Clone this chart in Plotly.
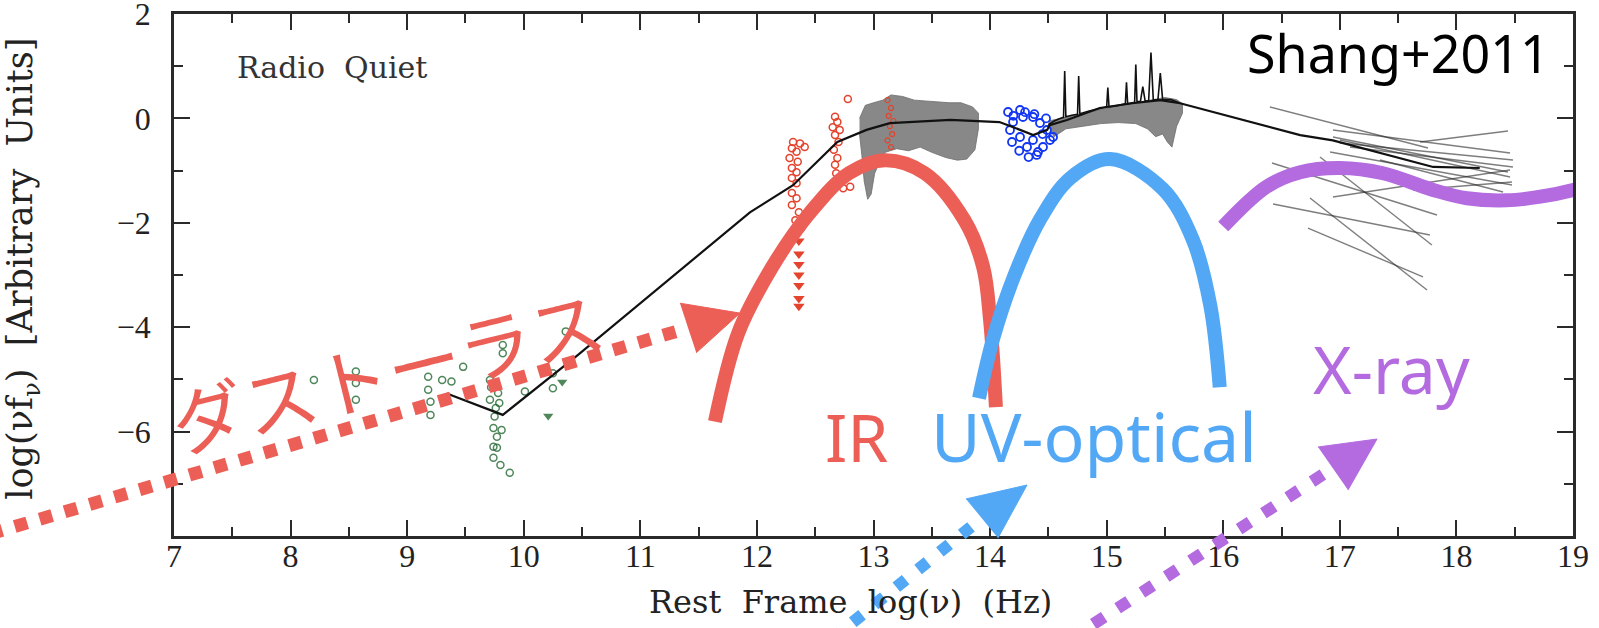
import plotly.graph_objects as go

# ---------------- frame geometry (pixels of the 1599x628 picture) ----------------
FIG_W, FIG_H = 1599, 628
PX_L, PX_R, PX_T, PX_B = 174, 1573, 14, 536
X_MIN, X_MAX = 7, 19
Y_MIN, Y_MAX = -8, 2
UX = (PX_R - PX_L) / (X_MAX - X_MIN)
UY = (PX_B - PX_T) / (Y_MAX - Y_MIN)
EXT_X = [X_MIN - PX_L / UX, X_MAX + (FIG_W - PX_R) / UX]
EXT_Y = [Y_MIN - (FIG_H - PX_B) / UY, Y_MAX + PX_T / UY]

# ---------------- data ----------------
x_ticks = [7, 8, 9, 10, 11, 12, 13, 14, 15, 16, 17, 18, 19]
y_ticks = [-8, -6, -4, -2, 0, 2]
y_ticktext = ["", "\u22126", "\u22124", "\u22122", "0", "2"]

# radio (green open circles)
radio_x = [8.2, 8.56, 8.56, 8.56, 9.18, 9.18, 9.2, 9.2, 9.3, 9.38, 9.48, 9.71, 9.75, 9.71,
           9.78, 9.75, 9.74, 9.77, 9.74, 9.77, 9.74, 9.8, 9.88, 9.82, 9.82, 10.01, 10.25,
           10.25, 9.81, 10.36, 9.76, 9.72, 9.79]
radio_y = [-5.01, -4.85, -5.07, -5.39, -4.95, -5.2, -5.43, -5.68, -5.01, -5.04, -4.76, -5.01,
           -5.07, -5.39, -5.26, -5.71, -5.93, -6.1, -6.29, -6.31, -6.5, -6.64, -6.79, -4.34,
           -4.5, -5.23, -4.88, -5.17, -5.97, -4.08, -5.55, -5.15, -5.45]
radio_lim_x = [10.21, 10.33]
radio_lim_y = [-5.7, -5.05]

# infrared photometry (red)
ir_x = [12.31, 12.37, 12.30, 12.41, 12.34, 12.28, 12.35, 12.30, 12.34, 12.30, 12.34, 12.30,
        12.34, 12.30, 12.36, 12.33, 12.38, 12.78, 12.67, 12.69, 12.65, 12.71, 12.67, 12.69,
        12.67, 12.68, 12.80, 12.74, 12.70, 12.66]
ir_y = [-0.45, -0.48, -0.57, -0.55, -0.64, -0.76, -0.83, -0.95, -1.03, -1.14, -1.24, -1.43,
        -1.53, -1.66, -1.8, -1.95, -2.1, 0.37, 0.03, -0.07, -0.17, -0.22, -0.32, -0.76,
        -0.89, -1.05, -1.31, -1.34, -0.45, -0.6]
ir_lim_x = [12.36, 12.36, 12.36, 12.36, 12.36, 12.36, 12.36]
ir_lim_y = [-2.35, -2.6, -2.8, -3.0, -3.2, -3.45, -3.6]
mips_x = [13.12, 13.15, 13.13, 13.17, 13.14, 13.16, 13.12, 13.15]
mips_y = [0.35, 0.2, 0.05, -0.05, -0.15, -0.3, -0.42, -0.55]

# gray IR spectra envelope
irs_up_x = [12.88, 12.93, 13.0, 13.08, 13.15, 13.25, 13.35, 13.45, 13.55, 13.65, 13.75, 13.85, 13.9]
irs_up_y = [0.0, 0.25, 0.3, 0.35, 0.45, 0.42, 0.35, 0.33, 0.32, 0.3, 0.3, 0.22, 0.1]
irs_lo_x = [13.9, 13.87, 13.8, 13.72, 13.62, 13.5, 13.4, 13.3, 13.2, 13.1, 13.05, 13.01,
            12.98, 12.95, 12.92, 12.9, 12.88]
irs_lo_y = [-0.2, -0.6, -0.78, -0.8, -0.75, -0.65, -0.55, -0.62, -0.58, -0.65, -0.85, -1.05,
            -1.45, -1.55, -1.2, -0.7, -0.3]

# GALEX (blue)
galex_x = [14.154, 14.197, 14.257, 14.282, 14.171, 14.257, 14.368, 14.428, 14.488, 14.514,
           14.454, 14.317, 14.368, 14.188, 14.411, 14.54, 14.33, 14.4, 14.25, 14.45, 14.2,
           14.3, 14.38, 14.48]
galex_y = [0.123, -0.069, 0.161, 0.027, -0.222, -0.356, -0.414, -0.088, -0.222, -0.414,
           -0.548, -0.548, 0.027, -0.452, -0.644, -0.356, -0.74, -0.7, -0.62, -0.3, 0.05,
           0.12, 0.08, 0.0]

# UV-optical spectra envelope (gray) and composite (black)
uvs_up_x = [14.5, 14.6, 14.7, 14.8, 14.9, 15.0, 15.1, 15.2, 15.3, 15.4, 15.5, 15.6, 15.65]
uvs_up_y = [-0.05, 0.0, 0.05, 0.1, 0.15, 0.2, 0.24, 0.28, 0.32, 0.36, 0.4, 0.36, 0.28]
uvs_lo_x = [15.65, 15.6, 15.56, 15.52, 15.48, 15.42, 15.35, 15.25, 15.1, 14.95, 14.8, 14.65, 14.55, 14.5]
uvs_lo_y = [0.1, -0.15, -0.55, -0.45, -0.3, -0.35, -0.2, -0.1, -0.08, -0.1, -0.15, -0.2, -0.35, -0.15]
uvc_x = [14.5, 14.55, 14.6, 14.63, 14.64, 14.65, 14.7, 14.75, 14.76, 14.77, 14.85, 14.95, 15.0,
         15.01, 15.02, 15.1, 15.16, 15.17, 15.18, 15.22, 15.24, 15.25, 15.26, 15.29, 15.31,
         15.33, 15.36, 15.38, 15.40, 15.44, 15.46, 15.48, 15.55, 15.62]
uvc_y = [-0.12, -0.05, 0.0, 0.02, 0.91, 0.03, 0.06, 0.08, 0.81, 0.09, 0.14, 0.2, 0.22, 0.59,
         0.22, 0.25, 0.28, 0.69, 0.28, 0.3, 0.31, 1.03, 0.32, 0.33, 0.61, 0.33, 0.34, 1.26,
         0.35, 0.36, 0.87, 0.36, 0.36, 0.3]

# X-ray power-law segments
xr_x0 = [16.40, 17.688, 16.418, 16.427, 16.744, 16.727, 16.941, 16.83, 16.941, 16.941, 17.0,
         16.916, 17.345, 17.087, 17.0, 17.627]
xr_y0 = [0.218, -0.452, -0.854, -1.64, -1.525, -2.10, -1.506, -0.74, -0.222, -0.356, -0.471,
         -0.644, -0.797, -0.548, -0.414, -1.372]
xr_x1 = [17.756, 18.442, 17.833, 17.773, 17.748, 17.713, 18.46, 17.79, 18.46, 18.442, 18.485,
         18.477, 18.4, 18.485, 18.46, 18.477]
xr_y1 = [-0.567, -0.241, -1.851, -2.234, -3.287, -3.038, -0.989, -2.425, -0.663, -1.027,
         -0.797, -1.276, -1.41, -0.931, -1.123, -1.218]

# mean SED (black line)
mean_x = [9.34, 9.82, 10.45, 11.94, 12.31, 12.69, 12.94, 13.14, 13.66, 14.08, 14.2, 14.37,
          14.49, 14.51, 14.66, 14.94, 15.22, 15.46, 15.63, 16.66, 16.94, 17.8, 18.2]
mean_y = [-5.27, -5.68, -4.56, -1.8, -1.28, -0.45, -0.22, -0.09, -0.03, -0.07, -0.17, -0.32,
          -0.22, -0.13, -0.03, 0.2, 0.29, 0.35, 0.29, -0.32, -0.42, -0.93, -0.95]

# hand-drawn component curves
ir_bump_x = [11.64, 11.84, 12.13, 12.45, 12.79, 13.1, 13.44, 13.78, 13.94, 14.0, 14.05]
ir_bump_y = [-5.81, -4.11, -2.85, -1.82, -1.05, -0.8, -1.05, -1.95, -2.84, -3.86, -5.53]
uv_bump_x = [13.905, 14.03, 14.21, 14.43, 14.69, 15.03, 15.48, 15.74, 15.89, 15.97]
uv_bump_y = [-5.36, -4.19, -3.0, -1.93, -1.14, -0.78, -1.35, -2.33, -3.6, -5.15]
xray_bump_x = [16.0, 16.37, 16.66, 17.0, 17.37, 17.8, 18.09, 18.43, 18.72, 19.0, 19.1]
xray_bump_y = [-2.07, -1.31, -1.03, -0.95, -1.05, -1.37, -1.53, -1.57, -1.5, -1.37, -1.3]

# dotted pointer arrows (extended data units, reaching into the margins)
torus_arrow_x = [5.42, 11.41]
torus_arrow_y = [-7.96, -4.015]
torus_head_x = [11.34, 11.855, 11.48]
torus_head_y = [-3.54, -3.73, -4.49]
uv_arrow_x = [12.635, 13.93]
uv_arrow_y = [-9.99, -7.655]
uv_head_x = [13.793, 14.317, 14.068]
uv_head_y = [-7.29, -7.023, -8.038]
xr_arrow_x = [14.677, 16.941]
xr_arrow_y = [-9.992, -6.697]
xr_head_x = [16.813, 17.319, 17.07]
xr_head_y = [-6.295, -6.142, -7.119]

RED = "#EC5F57"
BLUE = "#52A8F5"
PURPLE = "#B36BDF"
GRAY = "rgba(110,110,110,0.82)"

fig = go.Figure()

def main(tr):
    fig.add_trace(tr)

def ext(tr):
    tr.update(xaxis="x2", yaxis="y2")
    fig.add_trace(tr)

# spectra envelopes
main(go.Scatter(x=irs_up_x + irs_lo_x, y=irs_up_y + irs_lo_y, mode="lines", fill="toself",
                fillcolor=GRAY, line=dict(color=GRAY, width=1), hoverinfo="skip"))
main(go.Scatter(x=uvs_up_x + uvs_lo_x, y=uvs_up_y + uvs_lo_y, mode="lines", fill="toself",
                fillcolor=GRAY, line=dict(color=GRAY, width=1), hoverinfo="skip"))

# X-ray segments
seg_x, seg_y = [], []
for a, b, c, d in zip(xr_x0, xr_x1, xr_y0, xr_y1):
    seg_x += [a, b, None]
    seg_y += [c, d, None]
main(go.Scatter(x=seg_x, y=seg_y, mode="lines",
                line=dict(color="rgba(40,40,40,0.6)", width=1.4), hoverinfo="skip"))

# photometry
main(go.Scatter(x=radio_x, y=radio_y, mode="markers",
                marker=dict(symbol="circle-open", size=7, color="rgba(35,105,50,0.8)",
                            line=dict(width=1.5))))
main(go.Scatter(x=radio_lim_x, y=radio_lim_y, mode="markers",
                marker=dict(symbol="triangle-down", size=9, color="rgba(35,105,50,0.8)")))
main(go.Scatter(x=ir_x, y=ir_y, mode="markers",
                marker=dict(symbol="circle-open", size=7, color="#E4432D", line=dict(width=1.5))))
main(go.Scatter(x=ir_lim_x, y=ir_lim_y, mode="markers",
                marker=dict(symbol="triangle-down", size=10, color="#E4432D")))
main(go.Scatter(x=mips_x, y=mips_y, mode="markers",
                marker=dict(symbol="circle-open", size=5, color="#E4432D", line=dict(width=1.2))))
main(go.Scatter(x=galex_x, y=galex_y, mode="markers",
                marker=dict(symbol="circle-open", size=8, color="#1236F2", line=dict(width=1.8))))

# mean SED and composite
main(go.Scatter(x=mean_x, y=mean_y, mode="lines", line=dict(color="#111111", width=2.2)))
main(go.Scatter(x=uvc_x, y=uvc_y, mode="lines", line=dict(color="#111111", width=1.6)))

# component curves
main(go.Scatter(x=ir_bump_x, y=ir_bump_y, mode="lines",
                line=dict(color=RED, width=14, shape="spline", smoothing=1.0)))
main(go.Scatter(x=uv_bump_x, y=uv_bump_y, mode="lines",
                line=dict(color=BLUE, width=14, shape="spline", smoothing=1.0)))
main(go.Scatter(x=xray_bump_x, y=xray_bump_y, mode="lines",
                line=dict(color=PURPLE, width=14, shape="spline", smoothing=1.0)))

# dotted arrows over whole figure
ext(go.Scatter(x=torus_arrow_x, y=torus_arrow_y, mode="lines",
               line=dict(color=RED, width=13, dash="13px,13px")))
ext(go.Scatter(x=torus_head_x, y=torus_head_y, mode="lines", fill="toself", fillcolor=RED,
               line=dict(color=RED, width=1)))
ext(go.Scatter(x=uv_arrow_x, y=uv_arrow_y, mode="lines",
               line=dict(color=BLUE, width=12, dash="12px,16px")))
ext(go.Scatter(x=uv_head_x, y=uv_head_y, mode="lines", fill="toself", fillcolor=BLUE,
               line=dict(color=BLUE, width=1)))
ext(go.Scatter(x=xr_arrow_x, y=xr_arrow_y, mode="lines",
               line=dict(color=PURPLE, width=12, dash="13px,16px")))
ext(go.Scatter(x=xr_head_x, y=xr_head_y, mode="lines", fill="toself", fillcolor=PURPLE,
               line=dict(color=PURPLE, width=1)))

SERIF = "DejaVu Serif"
TICKFONT = dict(family="Liberation Serif", size=32, color="#222222")
NB = "\u00a0"

def ann(text, x, y, size, color, family, xanchor="center", angle=0):
    fig.add_annotation(text=text, x=x, y=y, xref="x2", yref="y2", showarrow=False,
                       xanchor=xanchor, yanchor="middle", textangle=angle,
                       font=dict(size=size, color=color, family=family))

ann("Radio" + NB * 2 + "Quiet", 7.523, 0.966, 30, "#333333", SERIF, xanchor="left")
ann("Shang+2011", 18.82, 1.262, 52, "#000000", "Noto Sans", xanchor="right")
ann("IR", 12.57, -6.084, 66, RED, "Noto Sans", xanchor="left")
ann("UV-optical", 13.48, -6.084, 68, BLUE, "Noto Sans", xanchor="left")
ann("X-ray", 16.75, -4.78, 66, PURPLE, "Noto Sans", xanchor="left")
ann("ダストーラス", 8.82, -4.80, 74, RED, "Noto Sans CJK JP", angle=-14)
ann("Rest" + NB * 2 + "Frame" + NB * 2 + "log(\u03bd)" + NB * 2 + "(Hz)", 12.80, -9.264, 32,
    "#222222", SERIF)
ann("log(\u03bdf<sub>\u03bd</sub>)" + NB * 2 + "[Arbitrary" + NB * 2 + "Units]", 5.70, -2.87,
    35, "#222222", SERIF, angle=-90)

axis_common = dict(showline=True, linewidth=2.5, linecolor="#2a2a2a", mirror="allticks",
                   ticks="inside", ticklen=16, tickwidth=1.8, tickcolor="#2a2a2a",
                   showgrid=False, zeroline=False, automargin=False, tickfont=TICKFONT,
                   fixedrange=True, ticklabeloverflow="allow")

fig.update_layout(
    width=FIG_W, height=FIG_H, autosize=False,
    margin=dict(l=0, r=0, t=0, b=0, pad=0),
    paper_bgcolor="white", plot_bgcolor="rgba(0,0,0,0)",
    showlegend=False, hovermode=False,
    xaxis=dict(domain=[PX_L / FIG_W, PX_R / FIG_W], range=[X_MIN, X_MAX], anchor="y",
               tickmode="array", tickvals=x_ticks, ticklabelstandoff=-10,
               minor=dict(dtick=0.5, tick0=7, ticks="inside", ticklen=9, tickwidth=1.6,
                          tickcolor="#2a2a2a"),
               **axis_common),
    yaxis=dict(domain=[(FIG_H - PX_B) / FIG_H, (FIG_H - PX_T) / FIG_H], range=[Y_MIN, Y_MAX],
               anchor="x", tickmode="array", tickvals=y_ticks, ticktext=y_ticktext,
               ticklabelstandoff=14,
               minor=dict(dtick=1, tick0=0, ticks="inside", ticklen=9, tickwidth=1.6,
                          tickcolor="#2a2a2a"),
               **axis_common),
    xaxis2=dict(domain=[0, 1], range=EXT_X, anchor="y2", visible=False, fixedrange=True),
    yaxis2=dict(domain=[0, 1], range=EXT_Y, anchor="x2", visible=False, fixedrange=True),
)

fig.write_html("out.html")
